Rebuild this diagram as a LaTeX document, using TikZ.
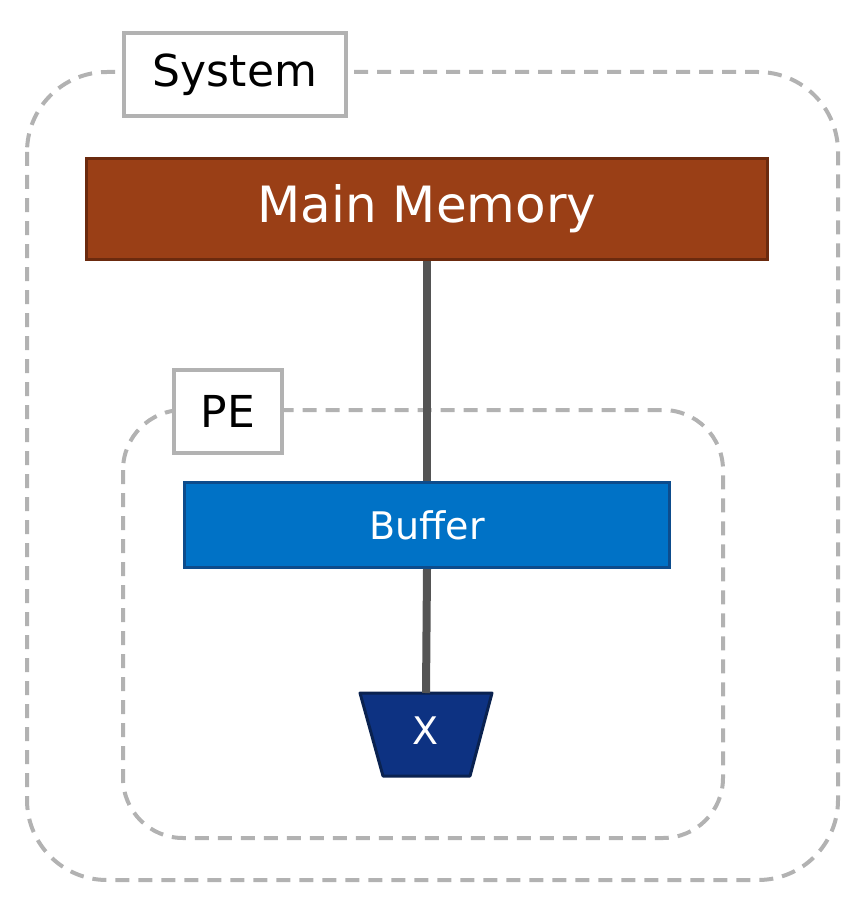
\documentclass[tikz,border=0pt]{standalone}
\usepackage{fontspec}
\setmainfont{DejaVu Sans}
\begin{document}
\begin{tikzpicture}[x=1pt,y=-1pt,
  dashbox/.style={draw=black!30,line width=4pt,dash pattern=on 14pt off 9pt},
  lbl/.style={draw=black!30,line width=4pt,fill=white,inner sep=0pt,anchor=north west},
  wire/.style={draw=black!67,line width=8pt},
  txt/.style={text=white}]
\useasboundingbox (0,0) rectangle (861,904);
\draw[dashbox,rounded corners=80pt] (27,72) rectangle (838,880);
\node[lbl,minimum width=222pt,minimum height=83pt,font=\fontsize{44}{48}\selectfont] (sys) at (122,31) {System};
\node[draw={rgb,255:red,107;green,42;blue,14},line width=3pt,fill={rgb,255:red,154;green,63;blue,22},minimum width=681pt,minimum height=101pt,anchor=north west,txt,font=\fontsize{50}{54}\selectfont] (mm) at (85,157) {Main Memory};
\draw[dashbox,rounded corners=60pt] (123,410) rectangle (723,838);
\node[lbl,minimum width=108pt,minimum height=83pt,font=\fontsize{44}{48}\selectfont] (pe) at (172,368) {PE};
\node[draw={rgb,255:red,13;green,76;blue,140},line width=3pt,fill={rgb,255:red,0;green,114;blue,198},minimum width=485pt,minimum height=85pt,anchor=north west,txt,font=\fontsize{38}{42}\selectfont] (buf) at (183,481) {Buffer};
\draw[draw={rgb,255:red,10;green,34;blue,80},line width=3pt,fill={rgb,255:red,13;green,50;blue,130},line join=round] (360,693) -- (492,693) -- (470,776) -- (383,776) -- cycle;
\node[txt,font=\fontsize{38}{42}\selectfont] (x) at (426,731) {X};
\coordinate (xt) at (426,693);
\draw[wire] (mm.south) -- (buf.north);
\draw[wire] (buf.south) -- (xt);
\end{tikzpicture}
\end{document}
